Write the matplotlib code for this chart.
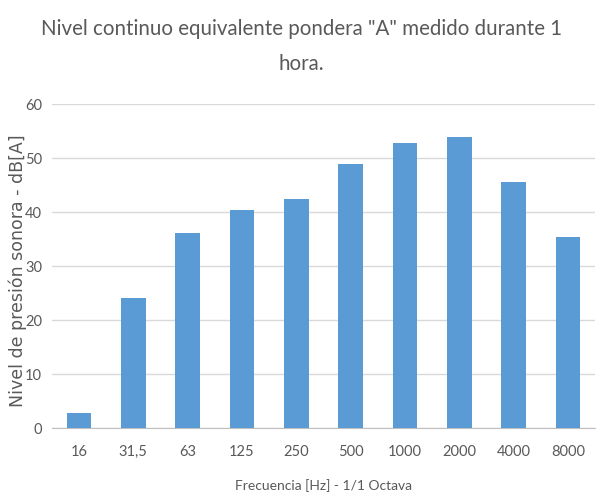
import matplotlib
matplotlib.use("Agg")
import matplotlib.pyplot as plt

plt.rcParams["font.family"] = ["Lato", "DejaVu Sans"]

categories = ["16", "31,5", "63", "125", "250", "500", "1000", "2000", "4000", "8000"]
levels = [2.8, 24.1, 36.1, 40.4, 42.5, 48.9, 52.8, 54.0, 45.6, 35.3]

fig = plt.figure(figsize=(6.03, 4.96), dpi=100)
ax = fig.add_axes([0.086, 0.137, 0.901, 0.653])

x = range(len(categories))
ax.bar(x, levels, width=0.45, color="#5B9BD5", zorder=3)

ax.set_xlim(-0.5, len(categories) - 0.5)
ax.set_ylim(0, 60)
ax.set_yticks(range(0, 61, 10))
ax.set_xticks(list(x))
ax.set_xticklabels(categories)

ax.grid(axis="y", color="#D9D9D9", linewidth=1, zorder=0)
for side in ["top", "right", "left"]:
    ax.spines[side].set_visible(False)
ax.spines["bottom"].set_color("#BFBFBF")
ax.tick_params(axis="both", length=0, colors="#595959", labelsize=10.5)
ax.tick_params(axis="x", pad=12)
ax.tick_params(axis="y", pad=7)

ax.set_xlabel("Frecuencia [Hz] - 1/1 Octava", color="#595959", fontsize=10, labelpad=15)

fig.text(0.029, 0.454, "Nivel de presión sonora - dB[A]", rotation=90,
         ha="center", va="center", color="#595959", fontsize=12.5,
         family=["DejaVu Sans"])

fig.text(0.5, 0.962, 'Nivel continuo equivalente pondera "A" medido durante 1\nhora.',
         ha="center", va="top", fontsize=14.8, color="#595959", linespacing=1.95)

fig.savefig("out.png", dpi=100, facecolor="white")
